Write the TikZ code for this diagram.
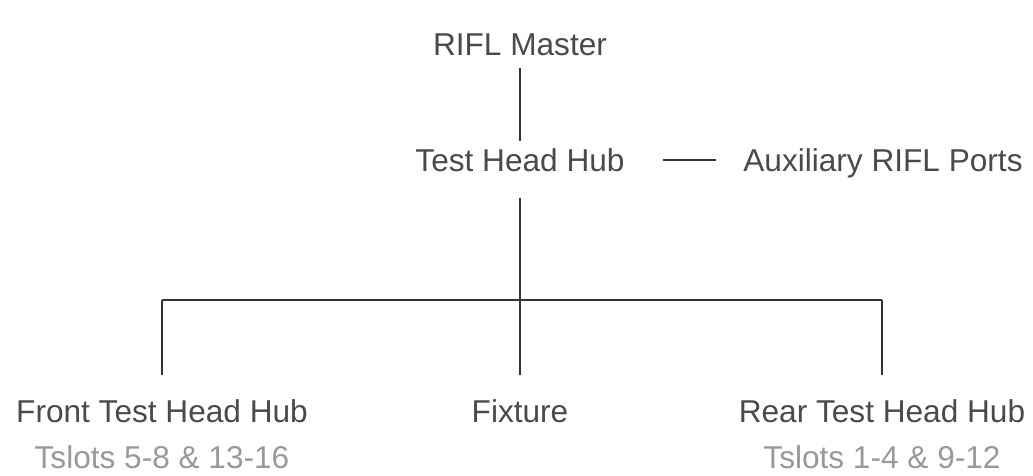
\documentclass[tikz,border=0pt]{standalone}
\usepackage{fontspec}
\setmainfont{Liberation Sans}
\definecolor{labelgray}{HTML}{4A4A4A}
\definecolor{subgray}{HTML}{999999}
\definecolor{linegray}{HTML}{333333}
\begin{document}
\begin{tikzpicture}[
    x=1pt, y=-1pt,
    label/.style={anchor=base, inner sep=0pt, text=labelgray, font=\fontsize{31.6}{36}\selectfont},
    sublabel/.style={anchor=base, inner sep=0pt, text=subgray, font=\fontsize{31.6}{36}\selectfont},
    link/.style={draw=linegray, line width=2pt},
]
\useasboundingbox (0,0) rectangle (1033,475);

% Top of the tree
\node[label] (master) at (520, 55) {RIFL Master};
\node[label] (hub) at (520, 171) {Test Head Hub};
\node[label] (aux) at (883, 171) {Auxiliary RIFL Ports};

% Branch points on the bus
\coordinate (busL) at (162, 300);
\coordinate (busC) at (520, 300);
\coordinate (busR) at (882, 300);

% Leaves
\node[label] (front) at (162, 422) {Front Test Head Hub};
\node[label] (fixture) at (520, 422) {Fixture};
\node[label] (rear) at (882, 422) {Rear Test Head Hub};
\node[sublabel] (frontslots) at (162, 468) {Tslots 5-8 \& 13-16};
\node[sublabel] (rearslots) at (882, 468) {Tslots 1-4 \& 9-12};

% Connections
\draw[link, shorten <=12pt, shorten >=7pt] (master.south) -- (hub.north);
\draw[link, shorten <=38pt, shorten >=27pt] (hub.east |- 0,160) -- (aux.west |- 0,160);
\draw[link, shorten <=26pt] (hub.south) -- (busC);
\draw[link] (busL) -- (busR);
\draw[link, shorten >=24pt] (busL) -- (front.north);
\draw[link, shorten >=24pt] (busC) -- (fixture.north);
\draw[link, shorten >=24pt] (busR) -- (rear.north);

\end{tikzpicture}
\end{document}
